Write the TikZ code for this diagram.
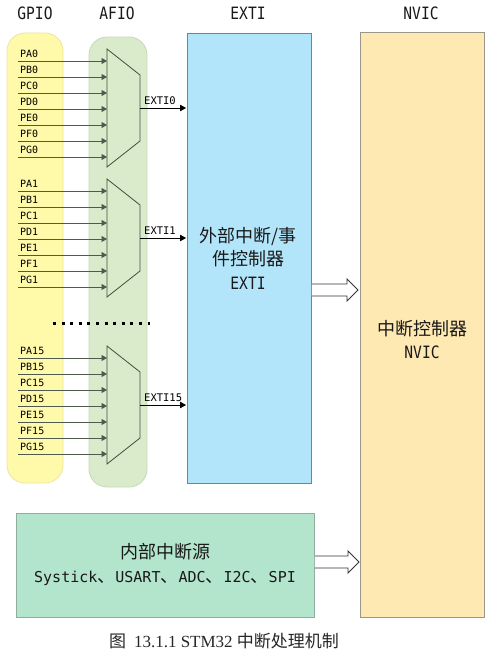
\documentclass[tikz,border=0pt]{standalone}
\usepackage{fontspec}
\setmainfont{Liberation Serif}
\newfontfamily\cjkf{Noto Sans CJK SC}
\newfontfamily\monof{DejaVu Sans Mono}
\usetikzlibrary{arrows.meta,calc}
\definecolor{gpioY}{HTML}{FFF9AA}
\definecolor{gpioYb}{HTML}{EDE5A0}
\definecolor{afioG}{HTML}{DAEBCC}
\definecolor{afioGb}{HTML}{C3D9B6}
\definecolor{extiB}{HTML}{B3E5FA}
\definecolor{extiBb}{HTML}{74848F}
\definecolor{nvicY}{HTML}{FEE9B2}
\definecolor{nvicYb}{HTML}{9A978A}
\definecolor{intG}{HTML}{B3E4CC}
\definecolor{intGb}{HTML}{90AE9F}
\definecolor{lineG}{HTML}{4F5A4F}
\definecolor{muxB}{HTML}{3C503C}
\newcommand{\narrowtxt}[1]{\scalebox{0.86}[1]{#1}}
\tikzset{
  titletxt/.style={font=\monof\fontsize{17}{18}\selectfont, text=black!90},
  gpiobox/.style={fill=gpioY, draw=gpioYb, line width=0.8pt, rounded corners=18pt},
  afiobox/.style={fill=afioG, draw=afioGb, line width=0.8pt, rounded corners=18pt},
  blockbox/.style={draw, line width=0.8pt, anchor=north west, inner sep=0pt},
  muxshape/.style={fill=afioG, draw=muxB, line width=0.8pt},
  porttxt/.style={font=\monof\fontsize{10}{10}\selectfont, inner sep=0pt, text=black},
  inp/.style={draw=lineG, line width=0.8pt, -{Triangle[length=5.5pt,width=6pt]}},
  outarr/.style={draw=black, line width=0.8pt, -{Triangle[length=6pt,width=6.5pt]}},
  extilbl/.style={font=\monof\fontsize{10.5}{11}\selectfont, inner sep=0pt},
  hollow/.style={draw=black!80, fill=white, line width=0.8pt, line join=miter},
  bigtxt/.style={align=center, font=\cjkf\fontsize{18}{23.5}\selectfont, text=black!90},
}
\begin{document}
\begin{tikzpicture}[x=1pt,y=-1pt]
\useasboundingbox (0,0) rectangle (491,658);
% titles
\node[titletxt] (tgpio) at (35,13) {\narrowtxt{GPIO}};
\node[titletxt] (tafio) at (117,13) {\narrowtxt{AFIO}};
\node[titletxt] (texti) at (248,13) {\narrowtxt{EXTI}};
\node[titletxt] (tnvic) at (421,13) {\narrowtxt{NVIC}};
% panels
\draw[gpiobox] (7,33) rectangle (63,483);
\draw[afiobox] (89,37) rectangle (147,487);
\node[blockbox, fill=extiB, draw=extiBb, minimum width=124pt, minimum height=450pt] (exti) at (187,33) {};
\node[blockbox, fill=nvicY, draw=nvicYb, minimum width=124pt, minimum height=585pt] (nvic) at (360,32) {};
\node[blockbox, fill=intG, draw=intGb, minimum width=298pt, minimum height=104pt] (intsrc) at (16,513) {};
% muxes
\foreach \t/\s in {49/0, 179/1, 346/15} {
  \draw[muxshape] (107,\t) -- (140,\t+26) -- (140,\t+92) -- (107,\t+118) -- cycle;
  \foreach \L [count=\i from 0] in {A,B,C,D,E,F,G} {
    \pgfmathsetmacro\yy{\t+12+16*\i}
    \coordinate (src\L\s) at (18,\yy);
    \coordinate (in\L\s) at (107,\yy);
    \node[porttxt, anchor=base west] (lbl\L\s) at (20,\yy-3.5) {P\L\s};
    \draw[inp] (src\L\s) -- (in\L\s);
  }
  \coordinate (mo\s) at (140,\t+59);
  \draw[outarr] (mo\s) -- ($(exti.west |- mo\s)+(-1,0)$);
  \node[extilbl, anchor=base west] (el\s) at ($(mo\s)+(4,-3.5)$) {EXTI\s};
}
% dots
\coordinate (dotA) at (53,323);
\coordinate (dotB) at (150,323);
\draw[line width=3pt, dash pattern=on 3pt off 5.6pt] (dotA) -- (dotB);
% block texts
\node[bigtxt] (extitxt) at (248,258) {外部中断/事\\件控制器\\{\monof\fontsize{17}{23.5}\selectfont\narrowtxt{EXTI}}};
\node[bigtxt] (nvictxt) at (422,339.5) {中断控制器\\{\monof\fontsize{17}{23.5}\selectfont\narrowtxt{NVIC}}};
\node[bigtxt] (inttxt) at (165,564.5) {内部中断源\\{\monof\fontsize{15}{23.5}\selectfont Systick{\cjkf\fontsize{18}{23.5}\selectfont 、}USART{\cjkf\fontsize{18}{23.5}\selectfont 、}ADC{\cjkf\fontsize{18}{23.5}\selectfont 、}I2C{\cjkf\fontsize{18}{23.5}\selectfont 、}SPI}};
% hollow arrows
\coordinate (h1s) at (exti.east |- 0,290);
\coordinate (h1e) at ($(nvic.west |- 0,290)+(-2,0)$);
\draw[hollow] ($(h1s)+(0,-6)$) -- ($(h1e)+(-11,-6)$) -- ($(h1e)+(-11,-11)$) -- (h1e) -- ($(h1e)+(-11,11)$) -- ($(h1e)+(-11,6)$) -- ($(h1s)+(0,6)$);
\coordinate (h2s) at (intsrc.east |- 0,562);
\coordinate (h2e) at ($(nvic.west |- 0,562)+(-1,0)$);
\draw[hollow] ($(h2s)+(0,-6)$) -- ($(h2e)+(-11,-6)$) -- ($(h2e)+(-11,-11)$) -- (h2e) -- ($(h2e)+(-11,11)$) -- ($(h2e)+(-11,6)$) -- ($(h2s)+(0,6)$);
% caption
\node[font=\fontsize{17}{20}\selectfont, text=black!85] (cap) at (224,641) {{\cjkf 图}\hspace{8pt}13.1.1 STM32 {\cjkf 中断处理机制}};
\end{tikzpicture}
\end{document}
